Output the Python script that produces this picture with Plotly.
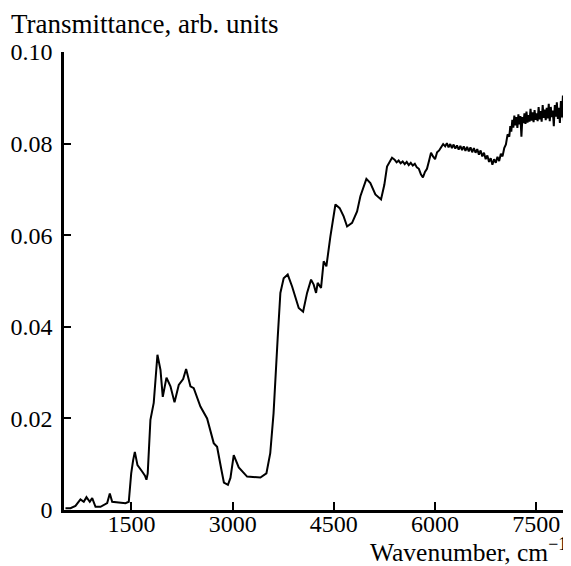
import plotly.graph_objects as go

# Wavenumber (cm^-1) and transmittance (arb. units)
wavenumber = [
    522, 596, 670, 744, 793, 833, 882, 918, 967, 1041, 1140, 1179, 1214, 1312, 1411, 1460,
    1496, 1525, 1550, 1589, 1630, 1658, 1700, 1722, 1741, 1781, 1830, 1860, 1885, 1930,
    1964, 2019, 2078, 2138, 2201, 2266, 2310, 2374, 2423, 2522, 2621, 2719, 2769, 2830,
    2870, 2930, 2967, 3016, 3090, 3214, 3350, 3411, 3500, 3557, 3606, 3640, 3667, 3707,
    3756, 3816, 3881, 3979, 4044, 4103, 4162, 4201, 4236, 4260, 4310, 4349, 4389, 4448,
    4523, 4586, 4645, 4696, 4770, 4844, 4893, 4982, 5041, 5115, 5199, 5248, 5288, 5362,
    5400, 5430, 5460, 5490, 5520, 5550, 5580, 5610, 5640, 5670, 5700, 5730, 5760, 5790,
    5820, 5850, 5880, 5910, 5940, 5970, 6000, 6030, 6060, 6090, 6120, 6150,
    6175, 6200, 6225, 6250, 6275, 6300, 6325, 6350, 6375, 6400, 6425, 6450, 6475, 6500,
    6525, 6550, 6575, 6600, 6625, 6650, 6675, 6700, 6725, 6750, 6775, 6800, 6825, 6850,
    6875, 6900, 6925, 6950, 6975, 7000, 7025, 7050, 7075, 7100,
    7115, 7130, 7145, 7160, 7175, 7190, 7205, 7220, 7235, 7250, 7265, 7280, 7295, 7310,
    7325, 7340, 7355, 7370, 7385, 7400, 7415, 7430, 7445, 7460, 7475, 7490, 7505, 7520,
    7535, 7550, 7565, 7580, 7595, 7610, 7625, 7640, 7655, 7670, 7685, 7700, 7715, 7730,
    7745, 7760, 7775, 7790, 7805, 7820, 7835, 7850, 7865, 7880, 7895, 7910, 7925, 7940,
    7955, 7970, 7985, 8000,
]
transmittance = [
    0.0004, 0.0004, 0.0009, 0.0023, 0.0018, 0.0028, 0.0018, 0.0026, 0.0007, 0.0007, 0.0015, 0.0036, 0.0018, 0.0016, 0.0015, 0.0018,
    0.0080, 0.0109, 0.0127, 0.0098, 0.0088, 0.0084, 0.0075, 0.0066, 0.0080, 0.0197, 0.0234, 0.0300, 0.0339, 0.0306,
    0.0247, 0.0289, 0.0270, 0.0235, 0.0273, 0.0286, 0.0308, 0.0270, 0.0266, 0.0226, 0.0200, 0.0146, 0.0138, 0.0090,
    0.0060, 0.0055, 0.0070, 0.0120, 0.0093, 0.0073, 0.0071, 0.0071, 0.0080, 0.0124, 0.0211, 0.0290, 0.0375, 0.0474,
    0.0506, 0.0514, 0.0488, 0.0441, 0.0433, 0.0474, 0.0503, 0.0492, 0.0474, 0.0496, 0.0485, 0.0543, 0.0532, 0.0597,
    0.0667, 0.0659, 0.0641, 0.0619, 0.0627, 0.0652, 0.0685, 0.0723, 0.0714, 0.0689, 0.0678, 0.0710, 0.0750, 0.0769,
    0.0765, 0.0759, 0.0763, 0.0757, 0.0761, 0.0755, 0.0760, 0.0753, 0.0758, 0.0752, 0.0756, 0.0748, 0.0745, 0.0733,
    0.0726, 0.0738, 0.0745, 0.0762, 0.0780, 0.0772, 0.0766, 0.0781, 0.0785, 0.0792, 0.0799, 0.0794,
    0.0801, 0.0792, 0.0799, 0.0790, 0.0798, 0.0789, 0.0796, 0.0787, 0.0795, 0.0786, 0.0794, 0.0784, 0.0793, 0.0783,
    0.0792, 0.0781, 0.0790, 0.0780, 0.0788, 0.0776, 0.0785, 0.0772, 0.0780, 0.0766, 0.0774, 0.0760, 0.0768, 0.0754,
    0.0766, 0.0758, 0.0771, 0.0762, 0.0778, 0.0772, 0.0790, 0.0798, 0.0820, 0.0815,
    0.0838, 0.0826, 0.0852, 0.0835, 0.0861, 0.0840, 0.0858, 0.0834, 0.0864, 0.0842, 0.0860, 0.0815, 0.0858, 0.0845,
    0.0866, 0.0843, 0.0870, 0.0846, 0.0862, 0.0848, 0.0876, 0.0850, 0.0868, 0.0847, 0.0873, 0.0852, 0.0866, 0.0849,
    0.0880, 0.0853, 0.0871, 0.0848, 0.0884, 0.0856, 0.0874, 0.0851, 0.0878, 0.0855, 0.0887, 0.0849, 0.0880, 0.0858,
    0.0872, 0.0838, 0.0884, 0.0859, 0.0890, 0.0854, 0.0878, 0.0845, 0.0893, 0.0857, 0.0905, 0.0850, 0.0898, 0.0862,
    0.0912, 0.0803, 0.0895, 0.0870,
]

x_tickvals = [1500, 3000, 4500, 6000, 7500]
x_ticktext = ["1500", "3000", "4500", "6000", "7500"]
y_tickvals = [0, 0.02, 0.04, 0.06, 0.08, 0.10]
y_ticktext = ["0", "0.02", "0.04", "0.06", "0.08", "0.10"]

FONT = "Liberation Serif, Times New Roman, serif"

fig = go.Figure()
fig.add_trace(go.Scatter(
    x=wavenumber, y=transmittance, mode="lines",
    line=dict(color="black", width=2),
    showlegend=False, hoverinfo="skip",
))

axis_common = dict(
    showgrid=False, zeroline=False, showline=True, linecolor="black", linewidth=2.5,
    ticks="inside", tickcolor="black", tickwidth=2, automargin=False,
    tickfont=dict(family=FONT, size=24, color="black"),
)

# the page body adds an 8px offset, so the figure is sized to the visible area
fig.update_layout(
    width=563, height=558,
    margin=dict(l=56, r=1, t=44, b=56),
    paper_bgcolor="white", plot_bgcolor="white",
    xaxis=dict(range=[500, 8000], tickvals=x_tickvals, ticktext=x_ticktext,
               ticklen=8, ticklabelstandoff=-10, **axis_common),
    yaxis=dict(range=[0, 0.1], tickvals=y_tickvals, ticktext=y_ticktext,
               ticklen=7, ticklabelstandoff=4, **axis_common),
    annotations=[
        dict(text="Transmittance, arb. units", xref="paper", yref="paper",
             x=-0.1028, y=1, xanchor="left", yanchor="bottom", yshift=12, xshift=-2,
             borderpad=0,
             showarrow=False, font=dict(family=FONT, size=27, color="black")),
        dict(text="Wavenumber, cm<sup>\u22121</sup>", xref="paper", yref="paper",
             x=0.996, y=-0.1223, xanchor="right", yanchor="bottom", yshift=-2,
             borderpad=0,
             showarrow=False, font=dict(family=FONT, size=25.5, color="black")),
    ],
)

fig.write_html("out.html")
